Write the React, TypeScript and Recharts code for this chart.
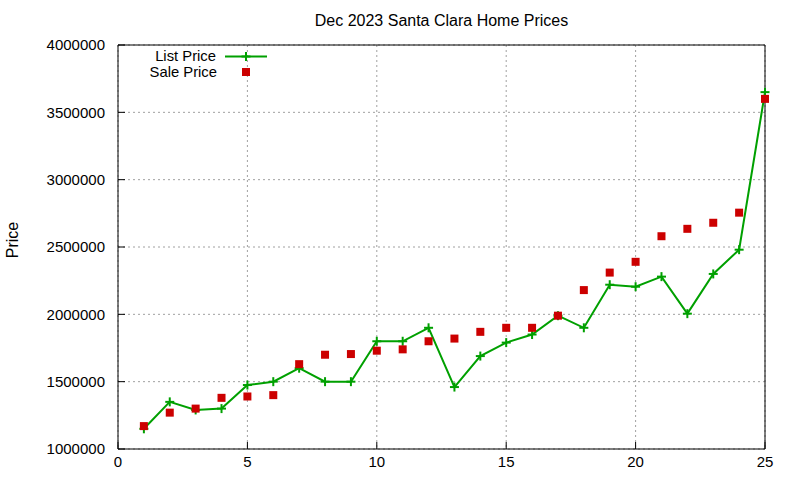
import React from 'react';
import { LineChart, Line, XAxis, YAxis, CartesianGrid } from 'recharts';

const homes = [1, 2, 3, 4, 5, 6, 7, 8, 9, 10, 11, 12, 13, 14, 15, 16, 17, 18, 19, 20, 21, 22, 23, 24, 25];
const listPrice = [1150000, 1350000, 1290000, 1300000, 1475000, 1500000, 1600000, 1500000, 1500000, 1800000, 1800000, 1900000, 1460000, 1690000, 1790000, 1850000, 1990000, 1900000, 2220000, 2205000, 2280000, 2005000, 2300000, 2480000, 3650000];
const salePrice = [1170000, 1270000, 1300000, 1380000, 1390000, 1400000, 1630000, 1700000, 1705000, 1730000, 1740000, 1800000, 1820000, 1870000, 1900000, 1900000, 1990000, 2180000, 2310000, 2390000, 2580000, 2635000, 2680000, 2755000, 3600000];
const xTicks = [0, 5, 10, 15, 20, 25];
const yTicks = [1000000, 1500000, 2000000, 2500000, 3000000, 3500000, 4000000];
const title = 'Dec 2023 Santa Clara Home Prices';
const yLabel = 'Price';
const listName = 'List Price';
const saleName = 'Sale Price';

const GREEN = '#00a000';
const RED = '#cc0000';
const FONT = '"Liberation Sans", Arial, sans-serif';

const data = homes.map((h, i) => ({ x: h, list: listPrice[i], sale: salePrice[i] }));

const PlusDot = (props: any) => {
  const { cx, cy } = props;
  if (cx == null || cy == null) return null;
  const r = 4.5;
  return (
    <g>
      <line x1={cx - r} y1={cy} x2={cx + r} y2={cy} stroke={GREEN} strokeWidth={2} />
      <line x1={cx} y1={cy - r} x2={cx} y2={cy + r} stroke={GREEN} strokeWidth={2} />
    </g>
  );
};

const SquareDot = (props: any) => {
  const { cx, cy } = props;
  if (cx == null || cy == null) return null;
  const s = 8;
  return <rect x={cx - s / 2} y={cy - s / 2} width={s} height={s} fill={RED} />;
};

const TitleLegend = (props: any) => {
  const vb = props.viewBox || { x: 118, y: 35, width: 647, height: 10 };
  const plotTop = vb.y + vb.height;
  const cx = vb.x + vb.width / 2;
  const lx = vb.x;
  return (
    <g fontFamily={FONT}>
      <text x={cx} y={26} textAnchor="middle" fontSize={16} fill="#000">{title}</text>
      <text x={lx + 98} y={plotTop + 15.5} textAnchor="end" fontSize={14.8} fill="#000">{listName}</text>
      <line x1={lx + 107} y1={plotTop + 11.5} x2={lx + 149} y2={plotTop + 11.5} stroke={GREEN} strokeWidth={2} />
      <PlusDot cx={lx + 128} cy={plotTop + 11.5} />
      <text x={lx + 99} y={plotTop + 32} textAnchor="end" fontSize={14.8} fill="#000">{saleName}</text>
      <SquareDot cx={lx + 128} cy={plotTop + 27} />
    </g>
  );
};

const PriceLabel = (props: any) => {
  const vb = props.viewBox || { x: 18, y: 45, width: 100, height: 404 };
  const x = vb.x;
  const y = vb.y + vb.height / 2 - 7;
  return (
    <text x={x} y={y} transform={`rotate(-90, ${x}, ${y})`} textAnchor="middle" fontSize={16} fontFamily={FONT} fill="#000">
      {yLabel}
    </text>
  );
};

export default function App() {
  const tickStyle = { fontSize: 15, fontFamily: FONT, fill: '#000' };
  return (
    <div style={{ position: 'absolute', left: 0, top: 0, width: 800, height: 480, background: '#fff' }}>
      <LineChart width={800} height={480} data={data} margin={{ top: 35, right: 25, bottom: 0, left: 18 }}>
        <CartesianGrid stroke="#a0a0a0" strokeDasharray="2 3" strokeWidth={1} />
        <XAxis
          dataKey="x"
          type="number"
          domain={[0, 25]}
          ticks={xTicks}
          height={31}
          tickSize={-7}
          tickMargin={14}
          tick={tickStyle}
          stroke="#000"
          axisLine={{ stroke: '#000', strokeWidth: 1 }}
          tickLine={{ stroke: '#000' }}
        />
        <XAxis
          xAxisId="top"
          orientation="top"
          dataKey="x"
          type="number"
          domain={[0, 25]}
          ticks={xTicks}
          height={10}
          tickSize={-7}
          tick={false}
          axisLine={{ stroke: '#000', strokeWidth: 1 }}
          tickLine={{ stroke: '#000' }}
          label={<TitleLegend />}
        />
        <YAxis
          type="number"
          domain={[1000000, 4000000]}
          ticks={yTicks}
          width={100}
          tickSize={-7}
          tickMargin={20}
          tick={tickStyle}
          axisLine={{ stroke: '#000', strokeWidth: 1 }}
          tickLine={{ stroke: '#000' }}
          label={<PriceLabel />}
        />
        <YAxis
          yAxisId="r"
          orientation="right"
          type="number"
          domain={[1000000, 4000000]}
          ticks={yTicks}
          width={10}
          tickSize={-7}
          tick={false}
          axisLine={{ stroke: '#000', strokeWidth: 1 }}
          tickLine={{ stroke: '#000' }}
        />
        <Line
          dataKey="list"
          stroke={GREEN}
          strokeWidth={2}
          dot={<PlusDot />}
          activeDot={false}
          isAnimationActive={false}
          type="linear"
        />
        <Line
          dataKey="sale"
          stroke="none"
          dot={<SquareDot />}
          activeDot={false}
          isAnimationActive={false}
          type="linear"
        />
      </LineChart>
    </div>
  );
}
